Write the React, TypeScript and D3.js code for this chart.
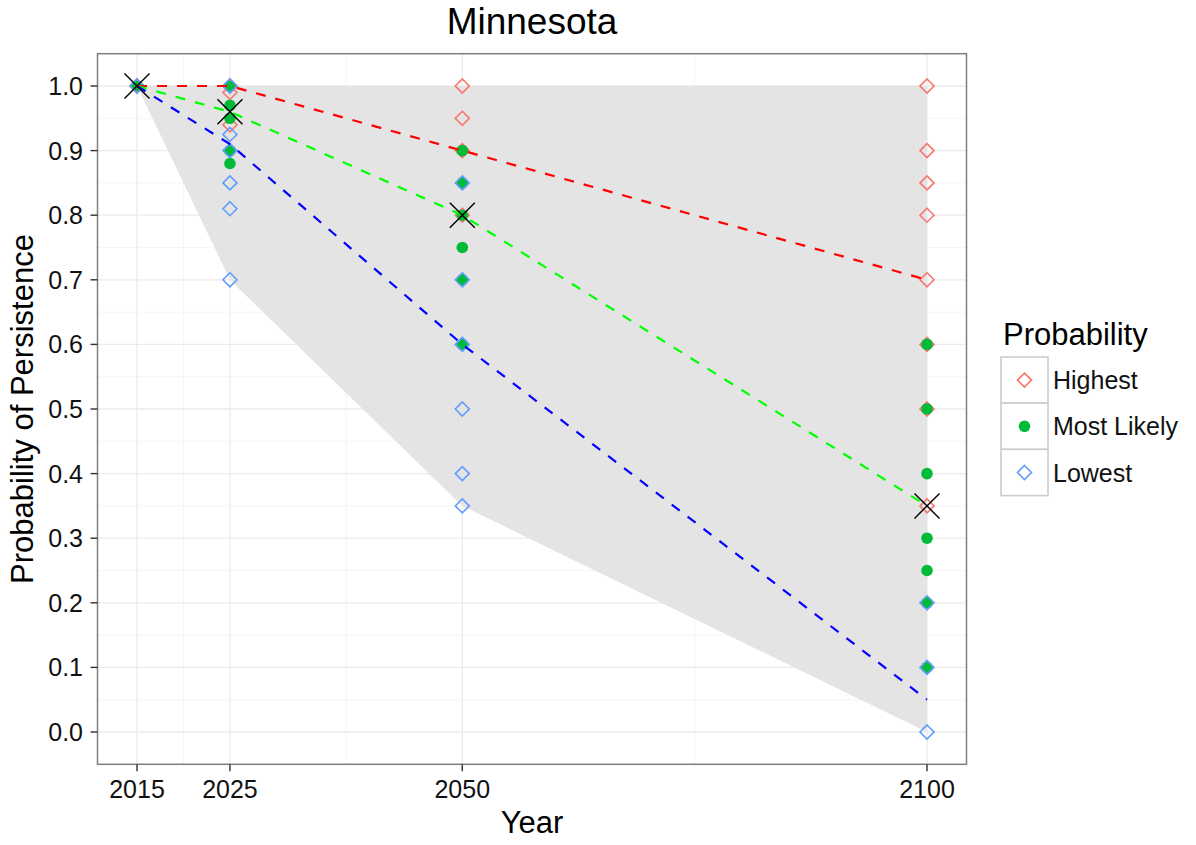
import React from "react";
import * as d3 from "d3";

// Years shown on the x axis
const years = [2015, 2025, 2050, 2100];
const yTicks = [0, 0.1, 0.2, 0.3, 0.4, 0.5, 0.6, 0.7, 0.8, 0.9, 1.0];

// Individual estimates per year
const highestPoints: [number, number][] = [
  [2015, 1.0],
  [2025, 1.0], [2025, 0.99], [2025, 0.94],
  [2050, 1.0], [2050, 0.95], [2050, 0.9], [2050, 0.8],
  [2100, 1.0], [2100, 0.9], [2100, 0.85], [2100, 0.8], [2100, 0.7], [2100, 0.6], [2100, 0.5], [2100, 0.35],
];
const likelyPoints: [number, number][] = [
  [2015, 1.0],
  [2025, 1.0], [2025, 0.97], [2025, 0.95], [2025, 0.9], [2025, 0.88],
  [2050, 0.9], [2050, 0.85], [2050, 0.8], [2050, 0.75], [2050, 0.7], [2050, 0.6],
  [2100, 0.6], [2100, 0.5], [2100, 0.4], [2100, 0.3], [2100, 0.25], [2100, 0.2], [2100, 0.1],
];
const lowestPoints: [number, number][] = [
  [2015, 1.0],
  [2025, 1.0], [2025, 0.925], [2025, 0.9], [2025, 0.85], [2025, 0.81], [2025, 0.7],
  [2050, 0.85], [2050, 0.7], [2050, 0.6], [2050, 0.5], [2050, 0.4], [2050, 0.35],
  [2100, 0.2], [2100, 0.1], [2100, 0.0],
];

// Trend lines per scenario
const highestLine = [1.0, 1.0, 0.9, 0.7];
const likelyLine = [1.0, 0.96, 0.8, 0.35];
const lowestLine = [1.0, 0.91, 0.6, 0.05];

// Mean markers
const meanValues = [1.0, 0.96, 0.8, 0.35];

// Shaded envelope
const bandUpper = [1.0, 1.0, 1.0, 1.0];
const bandLower = [1.0, 0.7, 0.35, 0.0];

const W = 1196;
const H = 845;
const left = 97.5;
const right = 966.5;
const top = 53.7;
const bottom = 764.3;

const FONT = "'Liberation Sans', Arial, Helvetica, sans-serif";
const COL_HIGH = "#F8766D";
const COL_LIKELY = "#00BA38";
const COL_LOW = "#619CFF";

const x = d3.scaleLinear().domain([2010.75, 2104.25]).range([left, right]);
const y = d3.scaleLinear().domain([-0.05, 1.05]).range([bottom, top]);

const xMinor = [2020, 2037.5, 2075];
const yMinor = d3.range(0.05, 1.0, 0.1);

const diamondPath = (r: number) => `M0,${-r}L${r},0L0,${r}L${-r},0Z`;

function Diamond({ cx, cy, color }: { cx: number; cy: number; color: string }) {
  return (
    <path
      d={diamondPath(7)}
      transform={`translate(${cx},${cy})`}
      fill="none"
      stroke={color}
      strokeWidth={1.6}
    />
  );
}

function Dot({ cx, cy }: { cx: number; cy: number }) {
  return <circle cx={cx} cy={cy} r={5.8} fill={COL_LIKELY} />;
}

export default function App() {
  const line = d3
    .line<number>()
    .x((_, i) => x(years[i]))
    .y((d) => y(d));

  const band = d3
    .area<number>()
    .x((_, i) => x(years[i]))
    .y0((_, i) => y(bandLower[i]))
    .y1((d) => y(d));

  const legendItems = [
    { label: "Highest", kind: "high" },
    { label: "Most Likely", kind: "likely" },
    { label: "Lowest", kind: "low" },
  ];
  const keyTop = 357;
  const keyH = 46.2;
  const keyLeft = 1001;
  const keyW = 47;

  return (
    <svg
      width={W}
      height={H}
      style={{ position: "absolute", left: 0, top: 0, background: "#fff" }}
      fontFamily={FONT}
    >
      <rect x={0} y={0} width={W} height={H} fill="#fff" />

      {/* grid */}
      {xMinor.map((v) => (
        <line key={`xm${v}`} x1={x(v)} x2={x(v)} y1={top} y2={bottom} stroke="#F2F2F2" strokeWidth={0.8} />
      ))}
      {yMinor.map((v) => (
        <line key={`ym${v}`} x1={left} x2={right} y1={y(v)} y2={y(v)} stroke="#F2F2F2" strokeWidth={0.8} />
      ))}
      {years.map((v) => (
        <line key={`xM${v}`} x1={x(v)} x2={x(v)} y1={top} y2={bottom} stroke="#EBEBEB" strokeWidth={1.3} />
      ))}
      {yTicks.map((v) => (
        <line key={`yM${v}`} x1={left} x2={right} y1={y(v)} y2={y(v)} stroke="#EBEBEB" strokeWidth={1.3} />
      ))}

      {/* envelope */}
      <path d={band(bandUpper) || ""} fill="#E4E4E4" />

      {/* points */}
      {highestPoints.map(([yr, v], i) => (
        <Diamond key={`h${i}`} cx={x(yr)} cy={y(v)} color={COL_HIGH} />
      ))}
      {likelyPoints.map(([yr, v], i) => (
        <Dot key={`l${i}`} cx={x(yr)} cy={y(v)} />
      ))}
      {lowestPoints.map(([yr, v], i) => (
        <Diamond key={`w${i}`} cx={x(yr)} cy={y(v)} color={COL_LOW} />
      ))}

      {/* trend lines */}
      <path d={line(highestLine) || ""} fill="none" stroke="#FF0000" strokeWidth={2.2} strokeDasharray="10 10" />
      <path d={line(likelyLine) || ""} fill="none" stroke="#00FF00" strokeWidth={2.2} strokeDasharray="10 10" />
      <path d={line(lowestLine) || ""} fill="none" stroke="#0000FF" strokeWidth={2.2} strokeDasharray="10 10" />

      {/* mean markers */}
      {meanValues.map((v, i) => {
        const cx = x(years[i]);
        const cy = y(v);
        const s = 12.5;
        return (
          <g key={`m${i}`} stroke="#000" strokeWidth={1.4}>
            <line x1={cx - s} y1={cy - s} x2={cx + s} y2={cy + s} />
            <line x1={cx - s} y1={cy + s} x2={cx + s} y2={cy - s} />
          </g>
        );
      })}

      {/* panel border */}
      <rect x={left} y={top} width={right - left} height={bottom - top} fill="none" stroke="#7F7F7F" strokeWidth={1.5} />

      {/* y axis */}
      {yTicks.map((v) => (
        <g key={`yt${v}`}>
          <line x1={left - 7} x2={left} y1={y(v)} y2={y(v)} stroke="#333" strokeWidth={1.4} />
          <text x={83} y={y(v)} dy="0.36em" textAnchor="end" fontSize={25} fill="#111">
            {v.toFixed(1)}
          </text>
        </g>
      ))}

      {/* x axis */}
      {years.map((v) => (
        <g key={`xt${v}`}>
          <line x1={x(v)} x2={x(v)} y1={bottom} y2={bottom + 7} stroke="#333" strokeWidth={1.4} />
          <text x={x(v)} y={797.5} textAnchor="middle" fontSize={25} fill="#111">
            {v}
          </text>
        </g>
      ))}

      {/* titles */}
      <text x={(left + right) / 2} y={34.3} textAnchor="middle" fontSize={37} fill="#000">
        Minnesota
      </text>
      <text x={(left + right) / 2} y={833} textAnchor="middle" fontSize={31} fill="#000">
        Year
      </text>
      <text
        transform={`translate(33,${(top + bottom) / 2}) rotate(-90)`}
        textAnchor="middle"
        fontSize={31}
        fill="#000"
      >
        Probability of Persistence
      </text>

      {/* legend */}
      <text x={1003} y={345} fontSize={31} fill="#000">
        Probability
      </text>
      {legendItems.map((item, i) => {
        const ky = keyTop + i * keyH;
        const cy = ky + keyH / 2;
        const cx = keyLeft + keyW / 2;
        return (
          <g key={item.kind}>
            <rect x={keyLeft} y={ky} width={keyW} height={keyH} fill="#fff" stroke="#CCCCCC" strokeWidth={1.6} />
            {item.kind === "high" && <Diamond cx={cx} cy={cy} color={COL_HIGH} />}
            {item.kind === "likely" && <Dot cx={cx} cy={cy} />}
            {item.kind === "low" && <Diamond cx={cx} cy={cy} color={COL_LOW} />}
            <text x={1053} y={cy} dy="0.36em" fontSize={25} fill="#111">
              {item.label}
            </text>
          </g>
        );
      })}
    </svg>
  );
}
